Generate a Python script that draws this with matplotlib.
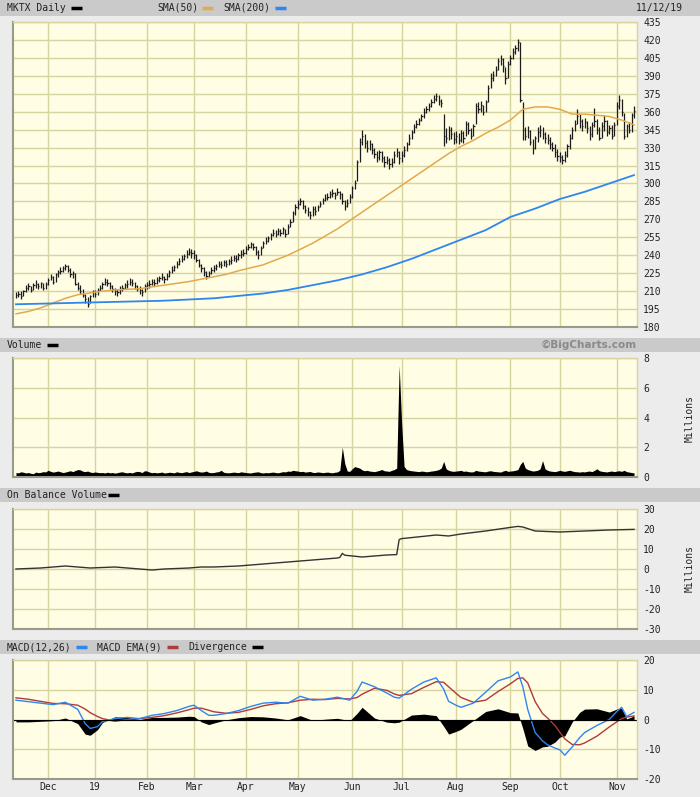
import numpy as np
import matplotlib.pyplot as plt
from matplotlib.patches import Rectangle
from matplotlib.lines import Line2D

plt.rcParams["axes.unicode_minus"] = False

# ---- data (one entry per trading day, 2018-11-13 .. 2019-11-12) ----
close = [207, 208, 206, 210, 213, 214, 211, 215, 216, 214, 217, 213, 216,
         219, 222, 218, 224, 226, 227, 229, 231, 228, 224, 225, 216, 213, 210, 207, 203, 199, 206, 209,
         208, 211, 213, 216, 218, 217, 214, 212, 210, 209, 212, 213, 215, 216, 218, 217, 214, 212, 211, 209, 214,
         215, 216, 218, 217, 219, 221, 222, 220, 223, 226, 228, 230, 233, 235, 237, 239, 241, 243, 242,
         240, 236, 232, 229, 226, 223, 225, 228, 229, 231, 233, 232, 234, 233, 235, 236, 238, 237, 240, 241, 242,
         245, 247, 249, 247, 243, 240, 246, 250, 252, 254, 257, 259, 258, 260, 259, 262, 258, 264, 268, 275, 280,
         283, 285, 281, 278, 276, 274, 279, 277, 280, 283, 286, 288, 289, 291, 292, 290, 293, 291, 285, 281, 284, 289,
         296, 300, 318, 335, 340, 334, 330, 333, 328, 325, 322, 326, 321, 318, 320, 316, 318, 324, 326, 321,
         324, 328, 333, 338, 343, 347, 350, 353, 356, 360, 362, 365, 368, 371, 373, 369, 367, 340, 338, 345, 341, 337,
         340, 336, 342, 338, 350, 345, 340, 348, 365, 362, 366, 360, 368, 380, 388, 391, 395, 402, 404, 398, 388, 400,
         405, 410, 413, 418, 370, 345, 340, 344, 335, 330, 338, 343, 345, 341, 338, 336, 333, 330, 326, 323,
         322, 320, 324, 331, 338, 345, 350, 356, 352, 348, 351, 346, 341, 349, 352, 345, 338, 348, 352, 343, 346, 340, 349,
         365, 370, 360, 340, 348, 345, 357, 361]
high = [209, 210, 210, 211, 215, 217, 214, 217, 219, 217, 218, 217, 218,
        221, 224, 223, 225, 228, 230, 231, 233, 232, 229, 227, 225, 218, 215, 212, 208, 205, 207, 211,
        211, 213, 215, 218, 221, 220, 218, 215, 213, 212, 214, 215, 217, 219, 221, 220, 218, 215, 214, 212, 216,
        218, 219, 220, 220, 222, 223, 225, 223, 225, 228, 231, 232, 235, 238, 240, 241, 244, 246, 245,
        244, 241, 237, 233, 230, 227, 227, 230, 232, 233, 235, 235, 236, 236, 237, 239, 240, 240, 242, 244, 245,
        248, 249, 251, 250, 248, 244, 248, 252, 255, 256, 259, 262, 261, 263, 262, 264, 262, 266, 270, 277, 283,
        286, 288, 286, 282, 280, 277, 281, 281, 282, 285, 288, 291, 292, 294, 295, 293, 296, 294, 292, 286, 287, 291,
        298, 303, 320, 338, 345, 341, 336, 336, 334, 330, 327, 328, 327, 323, 323, 321, 321, 327, 330, 327,
        327, 331, 335, 341, 345, 350, 353, 355, 358, 363, 365, 367, 371, 374, 376, 374, 371, 358, 346, 348, 347, 343,
        344, 342, 345, 344, 352, 351, 346, 350, 367, 368, 369, 366, 370, 382, 392, 394, 398, 405, 407, 405, 397, 402,
        407, 413, 416, 421, 418, 368, 347, 348, 345, 337, 340, 347, 349, 347, 343, 341, 339, 335, 333, 329,
        326, 324, 327, 333, 341, 347, 353, 362, 358, 354, 355, 352, 348, 351, 363, 354, 347, 351, 357, 353, 349, 349, 351,
        368, 374, 371, 359, 350, 351, 359, 365]
low = [204, 205, 203, 206, 209, 211, 209, 211, 213, 212, 213, 211, 212,
       215, 219, 216, 218, 222, 224, 226, 228, 226, 222, 221, 215, 211, 208, 205, 200, 197, 200, 205,
       205, 207, 210, 212, 215, 214, 212, 209, 207, 206, 208, 210, 212, 213, 215, 214, 212, 210, 208, 206, 209,
       212, 213, 215, 214, 216, 218, 219, 217, 219, 222, 225, 227, 229, 232, 234, 236, 238, 240, 238,
       237, 234, 230, 226, 223, 220, 222, 224, 226, 228, 230, 229, 231, 230, 232, 233, 235, 234, 236, 238, 239,
       241, 244, 246, 244, 240, 237, 240, 246, 249, 251, 253, 256, 255, 257, 256, 258, 255, 258, 264, 268, 274,
       279, 282, 279, 275, 273, 270, 273, 274, 277, 280, 283, 285, 286, 288, 289, 287, 290, 287, 283, 278, 280, 284,
       288, 295, 302, 318, 332, 330, 326, 328, 325, 321, 318, 320, 318, 314, 316, 312, 314, 317, 322, 316,
       318, 322, 327, 332, 337, 342, 346, 349, 352, 355, 359, 361, 364, 367, 369, 366, 364, 331, 334, 336, 337, 333,
       334, 333, 335, 334, 340, 341, 337, 340, 350, 359, 360, 357, 360, 368, 380, 386, 390, 395, 399, 393, 383, 388,
       399, 404, 408, 411, 368, 336, 336, 338, 332, 325, 329, 335, 339, 337, 334, 333, 329, 327, 322, 319,
       318, 316, 318, 322, 329, 337, 344, 350, 346, 344, 346, 342, 336, 339, 347, 341, 336, 338, 344, 340, 341, 337, 340,
       349, 362, 356, 337, 339, 342, 343, 355]
volume = [0.30, 0.28, 0.35, 0.32, 0.27, 0.30, 0.25, 0.22, 0.33, 0.29, 0.31, 0.36, 0.34,
          0.45, 0.38, 0.33, 0.36, 0.40, 0.35, 0.30, 0.33, 0.38, 0.42, 0.36, 0.44, 0.50, 0.48, 0.39, 0.36, 0.40, 0.33, 0.30,
          0.34, 0.31, 0.29, 0.30, 0.27, 0.32, 0.28, 0.30, 0.26, 0.29, 0.33, 0.35, 0.30, 0.28, 0.31, 0.27, 0.34, 0.38, 0.36, 0.30, 0.42,
          0.40, 0.33, 0.29, 0.31, 0.28, 0.30, 0.33, 0.27, 0.29, 0.32, 0.30, 0.28, 0.35, 0.31, 0.29, 0.33, 0.36, 0.30, 0.34,
          0.38, 0.42, 0.36, 0.33, 0.35, 0.40, 0.31, 0.29, 0.30, 0.34, 0.36, 0.45, 0.32, 0.29, 0.28, 0.30, 0.33, 0.31, 0.29, 0.35, 0.32,
          0.30, 0.28, 0.27, 0.31, 0.33, 0.35, 0.29, 0.27, 0.30, 0.28, 0.31, 0.33, 0.30, 0.28, 0.32, 0.36, 0.34, 0.40, 0.38, 0.45, 0.42,
          0.40, 0.36, 0.38, 0.33, 0.35, 0.37, 0.31, 0.30, 0.34, 0.32, 0.29, 0.31, 0.33, 0.30, 0.28, 0.32, 0.34, 0.45, 2.00, 0.90, 0.40, 0.38,
          0.55, 0.70, 0.65, 0.60, 0.48, 0.42, 0.45, 0.40, 0.38, 0.36, 0.40, 0.45, 0.50, 0.42, 0.40, 0.38, 0.45, 0.50, 0.60, 7.50,
          3.60, 0.70, 0.50, 0.45, 0.42, 0.40, 0.38, 0.36, 0.40, 0.38, 0.35, 0.37, 0.40, 0.42, 0.45, 0.50, 0.60, 1.05, 0.55, 0.45, 0.40, 0.38,
          0.40, 0.42, 0.45, 0.38, 0.40, 0.36, 0.34, 0.35, 0.45, 0.40, 0.38, 0.36, 0.35, 0.40, 0.42, 0.38, 0.36, 0.35, 0.33, 0.40, 0.45, 0.38,
          0.40, 0.42, 0.45, 0.50, 0.85, 1.05, 0.60, 0.50, 0.45, 0.40, 0.42, 0.45, 0.55, 1.10, 0.55, 0.45, 0.40, 0.38, 0.36, 0.40,
          0.45, 0.40, 0.38, 0.42, 0.45, 0.40, 0.36, 0.35, 0.33, 0.36, 0.34, 0.38, 0.40, 0.36, 0.45, 0.55, 0.42, 0.38, 0.36, 0.34, 0.38, 0.40, 0.36,
          0.40, 0.42, 0.38, 0.45, 0.36, 0.33, 0.30, 0.28]

# moving averages (trading-day index, value)
sma50_idx = [0, 5, 10, 15, 20, 25, 30, 35, 40, 45, 50, 55, 60, 65, 70, 75, 80, 85, 90, 95, 100, 105, 110, 115, 120,
             125, 130, 135, 140, 145, 150, 155, 160, 165, 170, 175, 180, 185, 190, 195, 200, 205, 210, 215, 220,
             225, 230, 235, 240, 245, 250]
sma50 = [191, 193, 196, 200, 204, 207, 208.5, 210, 211, 211.5, 212, 213.5, 215, 216.5, 218, 220, 222, 224, 227,
         229.5, 232, 236, 240, 245, 250, 256, 262, 269, 276, 283, 290, 297, 304, 311, 318, 325, 331, 336, 342, 347,
         353, 362, 364, 364, 362, 358, 358, 357, 356, 353, 349]
sma200_idx = [0, 10, 20, 30, 40, 50, 60, 70, 80, 90, 100, 110, 120, 130, 140, 150, 160, 170, 180, 190, 200, 210,
              220, 230, 240, 250]
sma200 = [199, 199.5, 200, 200.5, 201, 201.5, 202, 203, 204, 206, 208, 211, 215, 219, 224, 230, 237, 245, 253, 261,
          272, 279, 287, 293, 300, 307]

obv_idx = [0, 10, 20, 30, 40, 50, 55, 60, 70, 75, 80, 90, 100, 110, 115, 120, 130, 131, 132, 133, 140, 150, 154,
           155, 156, 160, 170, 175, 180, 190, 200, 203, 205, 210, 220, 230, 240, 250]
obv = [0, 0.5, 1.5, 0.5, 1, 0, -0.5, 0, 0.5, 1, 1, 1.5, 2.5, 3.5, 4, 4.5, 5.5, 5.8, 7.8, 6.9, 6, 7, 7.2, 14.7, 15.2,
       15.7, 17, 16.5, 17.5, 19, 20.8, 21.3, 21, 19, 18.5, 19, 19.5, 19.8]

macd_idx = [0, 5, 10, 15, 20, 25, 28, 30, 33, 35, 40, 45, 50, 55, 60, 65, 70, 72, 75, 78, 80, 85, 90, 95, 100,
            105, 110, 115, 120, 125, 130, 135, 138, 140, 145, 150, 153, 155, 160, 165, 170, 173, 175, 178, 180,
            185, 190, 195, 200, 203, 205, 207, 210, 213, 215, 218, 220, 222, 225, 228, 230, 235, 240, 243, 245,
            247, 250]
macd = [6.5, 6, 5.5, 5, 5.8, 3.4, -1.4, -3, -2.4, -0.7, 0.3, 0.7, 0.3, 1.4, 2, 3, 4.4, 4.8, 3, 1.4, 1.4, 2, 3,
        4.4, 5.5, 5.8, 5.5, 7.8, 6.5, 6.8, 7.5, 6.5, 9.5, 12.6, 11, 8.9, 7.5, 7.2, 10.2, 12.6, 14, 10.2, 6.1, 4.8,
        4.1, 5.5, 9.2, 13, 14.3, 16, 11, 3.4, -4.4, -7.2, -8.5, -9.6, -10.2, -12, -9.2, -6.1, -4.4, -2, 0, 2.7,
        4.1, 1, 2.4]
signal = [7.3, 6.8, 6.1, 5.4, 5.3, 4.8, 3.5, 2.3, 1, 0.3, -0.6, 0, 0.3, 0.7, 1.3, 2.2, 3.3, 3.8, 3.8, 3.1, 2.6,
          2.1, 2.4, 3.4, 4.6, 5.3, 5.6, 6.5, 6.8, 6.7, 7.1, 6.9, 7.4, 8.5, 10.5, 9.8, 8.6, 8.1, 8.7, 10.8, 12.7,
          12.5, 11, 8.8, 7.4, 5.8, 6.5, 9.4, 12, 13.8, 14, 12.3, 6, 2, 0.5, -2, -4.3, -6.5, -8.4, -8.5, -7.9,
          -5.6, -2.5, -0.8, 0.3, 0.8, 1.2]
divergence = [-0.8, -0.8, -0.6, -0.4, 0.5, -1.4, -4.9, -5.3, -3.4, -1, 0.9, 0.7, 0, 0.7, 0.7, 0.8, 1.1, 1, -0.8,
              -1.7, -1.2, -0.1, 0.6, 1, 0.9, 0.5, -0.1, 1.3, -0.3, 0.1, 0.4, -0.4, 2.1, 4.1, 0.5, -0.9, -1.1, -0.9,
              1.5, 1.8, 1.3, -2.3, -4.9, -4, -3.3, -0.3, 2.7, 3.6, 2.3, 2.2, -3, -8.9, -10.4, -9.2, -9, -7.6, -5.9,
              -5.5, -0.8, 2.4, 3.5, 3.6, 2.5, 3.5, 3.8, 0.2, 1.2]

month_idx = [13, 32, 53, 72, 93, 114, 136, 156, 178, 200, 220, 243]
month_lbl = ["Dec", "19", "Feb", "Mar", "Apr", "May", "Jun", "Jul", "Aug", "Sep", "Oct", "Nov"]

# ---- style ----
W, H = 700, 797
BG = "#ececec"
BAR = "#cacaca"
PANEL = "#fffde3"
GRID = "#d8d49f"
TXT = "#222222"
FS = 7
MONO = "DejaVu Sans Mono"

fig = plt.figure(figsize=(W / 100, H / 100), dpi=100, facecolor=BG)


def fx(px):
    return px / W


def fy(py):
    return 1 - py / H


def make_ax(top, bottom):
    ax = fig.add_axes([fx(13), fy(bottom), fx(637 - 13), (bottom - top) / H])
    ax.set_facecolor(PANEL)
    ax.set_xlim(-1.2, 251.2)
    ax.set_xticks(month_idx)
    ax.tick_params(axis="x", length=0, labelbottom=False)
    ax.yaxis.tick_right()
    ax.tick_params(axis="y", length=0, labelsize=FS, labelcolor=TXT, pad=4.5)
    ax.grid(True, color=GRID, lw=1.0)
    ax.set_axisbelow(True)
    for s in ["top", "right"]:
        ax.spines[s].set_color(GRID)
        ax.spines[s].set_linewidth(1.0)
    for s in ["bottom", "left"]:
        ax.spines[s].set_color("#9a9a8a")
        ax.spines[s].set_linewidth(1.5)
    return ax


def mono_ticks(ax):
    for t in ax.get_yticklabels():
        t.set_family(MONO)


def header(y0, y1):
    fig.patches.append(Rectangle((0, fy(y1)), 1, (y1 - y0) / H, transform=fig.transFigure,
                                 facecolor=BAR, edgecolor="none", zorder=0))


def key(x, y, color):
    fig.lines.append(Line2D([fx(x), fx(x + 11)], [fy(y), fy(y)], transform=fig.transFigure,
                            color=color, lw=2.5, solid_capstyle="butt"))


def label(x, y, s, **kw):
    fig.text(fx(x), fy(y), s, fontsize=FS, family=MONO, color=TXT, va="center", **kw)


idx = np.arange(len(close))

# header bars
header(0, 16)
header(338, 352)
header(488, 502)
header(640, 654)

label(7, 8, "MKTX Daily")
key(71, 8, "black")
label(157, 8, "SMA(50)")
key(202, 8, "#e2a94e")
label(223, 8, "SMA(200)")
key(275, 8, "#2e86f0")
label(683, 8, "11/12/19", ha="right")

label(7, 345, "Volume")
key(47, 345, "black")
fig.text(fx(637), fy(345), "\u00a9BigCharts.com", fontsize=7.5, color="#8a8a8a",
         fontweight="bold", va="center", ha="right")

label(7, 495, "On Balance Volume")
key(108, 495, "black")

label(7, 647, "MACD(12,26)")
key(76, 647, "#2e86f0")
label(97, 647, "MACD EMA(9)")
key(167, 647, "#b03a3a")
label(188, 647, "Divergence")
key(252, 647, "black")

# price panel
ax1 = make_ax(22, 327)
ax1.set_ylim(180, 435)
ax1.set_yticks(range(180, 436, 15))
mono_ticks(ax1)
ax1.vlines(idx, low, high, color="#1c1c1c", lw=0.9)
ax1.hlines(close, idx, idx + 0.5, color="#1c1c1c", lw=0.9)
ax1.plot(sma50_idx, sma50, color="#e2a94e", lw=1.1)
ax1.plot(sma200_idx, sma200, color="#2e86f0", lw=1.3)

# volume panel
ax2 = make_ax(358, 477)
ax2.set_ylim(0, 8)
ax2.set_yticks([0, 2, 4, 6, 8])
mono_ticks(ax2)
ax2.fill_between(idx, 0, volume, color="black", lw=0)
fig.text(fx(690), fy(418), "Millions", rotation=90, fontsize=FS, family=MONO, color=TXT,
         va="center", ha="center")

# on balance volume panel
ax3 = make_ax(509, 629)
ax3.set_ylim(-30, 30)
ax3.set_yticks(range(-30, 31, 10))
mono_ticks(ax3)
ax3.plot(obv_idx, obv, color="#333333", lw=1.0)
fig.text(fx(690), fy(569), "Millions", rotation=90, fontsize=FS, family=MONO, color=TXT,
         va="center", ha="center")

# MACD panel
ax4 = make_ax(660, 779)
ax4.set_ylim(-20, 20)
ax4.set_yticks([-20, -10, 0, 10, 20])
mono_ticks(ax4)
ax4.fill_between(macd_idx, 0, divergence, color="black", lw=0)
ax4.plot(macd_idx, signal, color="#b03a3a", lw=1.0)
ax4.plot(macd_idx, macd, color="#2e86f0", lw=1.0)
ax4.axhline(0, color="black", lw=0.8)
ax4.tick_params(axis="x", labelbottom=True, labelsize=FS, labelcolor=TXT, pad=2)
ax4.set_xticklabels(month_lbl, family=MONO)

fig.savefig("out.png", dpi=100, facecolor=BG)
